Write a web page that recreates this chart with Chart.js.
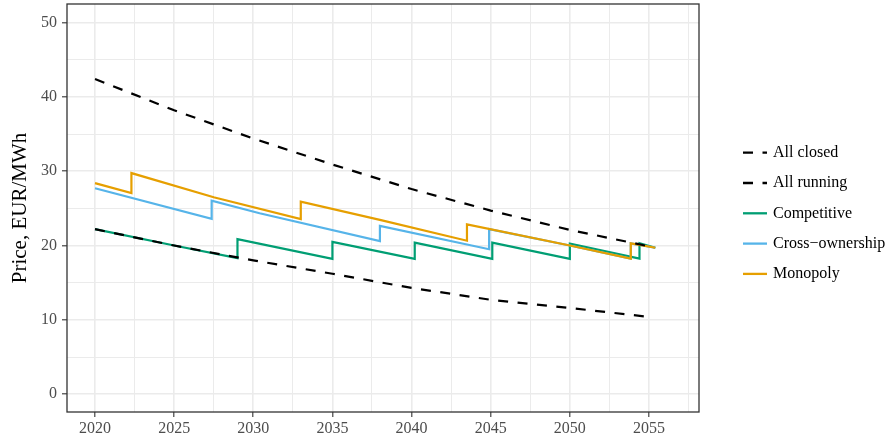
<!DOCTYPE html>
<html>
<head>
<meta charset="utf-8">
<script src="https://cdn.jsdelivr.net/npm/chart.js@4.4.0/dist/chart.umd.min.js"></script>
<style>
  html, body { margin: 0; padding: 0; background: #fff; }
</style>
</head>
<body>
<canvas id="myChart" width="888" height="441"></canvas>
<script>
// series names, in legend order
const seriesNames = ["All closed", "All running", "Competitive", "Cross\u2212ownership", "Monopoly"]

// dashed reference curves
const refYears = [2020, 2025, 2030, 2035, 2040, 2045, 2050, 2055]
const allClosed = [42.4, 38.2, 34.4, 30.9, 27.6, 24.7, 22.1, 19.9]
const allRunning = [22.2, 20.0, 18.0, 16.2, 14.3, 12.7, 11.6, 10.4]

// step paths (a repeated year = vertical jump)
const competitiveYears = [2020, 2025, 2029.0, 2029.0, 2035.0, 2035.0, 2040.2, 2040.2, 2045.1, 2045.1, 2050.0, 2050.0, 2054.4, 2054.4, 2055.4]
const competitive = [22.2, 20.0, 18.3, 20.85, 18.2, 20.5, 18.2, 20.4, 18.2, 20.4, 18.2, 20.25, 18.25, 20.3, 19.7]

const crossYears = [2020, 2027.37, 2027.37, 2030.4, 2038.0, 2038.0, 2044.9, 2044.9, 2050.0, 2053.85, 2053.85, 2055.4]
const crossOwnership = [27.7, 23.6, 26.05, 24.35, 20.6, 22.65, 19.5, 22.2, 20.0, 18.25, 20.3, 19.7]

const monopolyYears = [2020, 2022.3, 2022.3, 2027.5, 2033.0, 2033.0, 2038.0, 2043.5, 2043.5, 2050.0, 2053.85, 2053.85, 2055.4]
const monopoly = [28.4, 27.05, 29.75, 26.5, 23.55, 25.9, 23.45, 20.65, 22.85, 20.0, 18.25, 20.3, 19.7]

// axis ticks
const xTickLabels = [2020, 2025, 2030, 2035, 2040, 2045, 2050, 2055]
const yTickLabels = [0, 10, 20, 30, 40, 50]

const xGrid = [2020, 2022.5, 2025, 2027.5, 2030, 2032.5, 2035, 2037.5, 2040, 2042.5, 2045, 2047.5, 2050, 2052.5, 2055, 2057.5]
const yGrid = [0, 5, 10, 15, 20, 25, 30, 35, 40, 45, 50]

const toPoints = (xs, ys) => xs.map((x, i) => ({ x: x, y: ys[i] }))

const dash = [10, 9.5]
const colors = ["#000000", "#000000", "#009E73", "#56B4E9", "#E69F00"]

Chart.defaults.font.family = "'Liberation Serif', 'DejaVu Serif', serif"

const isMajorX = (c) => c.tick && xTickLabels.includes(c.tick.value)
const isMajorY = (c) => c.tick && yTickLabels.includes(c.tick.value)

const panelBorder = {
  id: "panelBorder",
  afterDraw(chart) {
    const { ctx, chartArea: a } = chart
    ctx.save()
    ctx.strokeStyle = "#333333"
    ctx.lineWidth = 1.3
    ctx.strokeRect(a.left, a.top, a.right - a.left, a.bottom - a.top)
    ctx.restore()
  },
}

const sideLegend = {
  id: "sideLegend",
  afterDraw(chart) {
    const ctx = chart.ctx
    ctx.save()
    chart.data.datasets.forEach((ds, i) => {
      const y = 152.7 + i * 30.3
      ctx.strokeStyle = ds.borderColor
      ctx.lineWidth = 2.3
      ctx.lineCap = "butt"
      ctx.setLineDash(ds.borderDash || [])
      ctx.beginPath()
      ctx.moveTo(743, y)
      ctx.lineTo(767, y)
      ctx.stroke()
      ctx.setLineDash([])
      ctx.fillStyle = "#000000"
      ctx.font = "16px 'Liberation Serif', serif"
      ctx.textBaseline = "middle"
      ctx.fillText(ds.label, 773, y)
    })
    ctx.restore()
  },
}

const ctx = document.getElementById("myChart")
const myChart = new Chart(ctx, {
  type: "line",
  data: {
    datasets: [
      { label: seriesNames[0], data: toPoints(refYears, allClosed), borderDash: dash, order: 0 },
      { label: seriesNames[1], data: toPoints(refYears, allRunning), borderDash: dash, order: 0 },
      { label: seriesNames[2], data: toPoints(competitiveYears, competitive), order: 3 },
      { label: seriesNames[3], data: toPoints(crossYears, crossOwnership), order: 2 },
      { label: seriesNames[4], data: toPoints(monopolyYears, monopoly), order: 1 },
    ].map((d, i) => ({
      ...d,
      borderColor: colors[i],
      backgroundColor: colors[i],
      borderWidth: 2.2,
      pointRadius: 0,
      pointHoverRadius: 0,
      tension: 0,
      fill: false,
      borderCapStyle: "butt",
    })),
  },
  options: {
    responsive: false,
    animation: false,
    events: [],
    layout: { padding: { top: 4, right: 189, bottom: 0, left: 0 } },
    scales: {
      x: {
        type: "linear",
        min: 2018.23,
        max: 2058.16,
        afterBuildTicks: (s) => { s.ticks = xGrid.map((v) => ({ value: v })) },
        afterFit: (s) => {
          s.height = 29
          s.paddingLeft = 0
          s.paddingRight = 0
        },
        ticks: {
          autoSkip: false,
          maxRotation: 0,
          padding: 2,
          color: "#4D4D4D",
          font: { size: 16 },
          callback: (v) => (xTickLabels.includes(v) ? String(v) : ""),
        },
        grid: {
          color: "#EBEBEB",
          lineWidth: (c) => (isMajorX(c) ? 1.6 : 1),
          tickLength: 5,
          tickWidth: 1.1,
          tickColor: (c) => (isMajorX(c) ? "#333333" : "rgba(0,0,0,0)"),
        },
        border: { display: false },
      },
      y: {
        min: -2.4,
        max: 52.5,
        afterBuildTicks: (s) => { s.ticks = yGrid.map((v) => ({ value: v })) },
        afterFit: (s) => {
          s.width = 67
          s.paddingTop = 0
          s.paddingBottom = 0
        },
        ticks: {
          autoSkip: false,
          padding: 5,
          color: "#4D4D4D",
          font: { size: 16 },
          callback: (v) => (yTickLabels.includes(v) ? String(v) : ""),
        },
        grid: {
          color: "#EBEBEB",
          lineWidth: (c) => (isMajorY(c) ? 1.6 : 1),
          tickLength: 5,
          tickWidth: 1.1,
          tickColor: (c) => (isMajorY(c) ? "#333333" : "rgba(0,0,0,0)"),
        },
        border: { display: false },
        title: {
          display: true,
          text: "Price, EUR/MWh",
          color: "#000000",
          font: { size: 21 },
          padding: { top: 8, bottom: 0 },
        },
      },
    },
    plugins: {
      legend: { display: false },
      tooltip: { enabled: false },
    },
  },
  plugins: [panelBorder, sideLegend],
})
</script>
</body>
</html>
